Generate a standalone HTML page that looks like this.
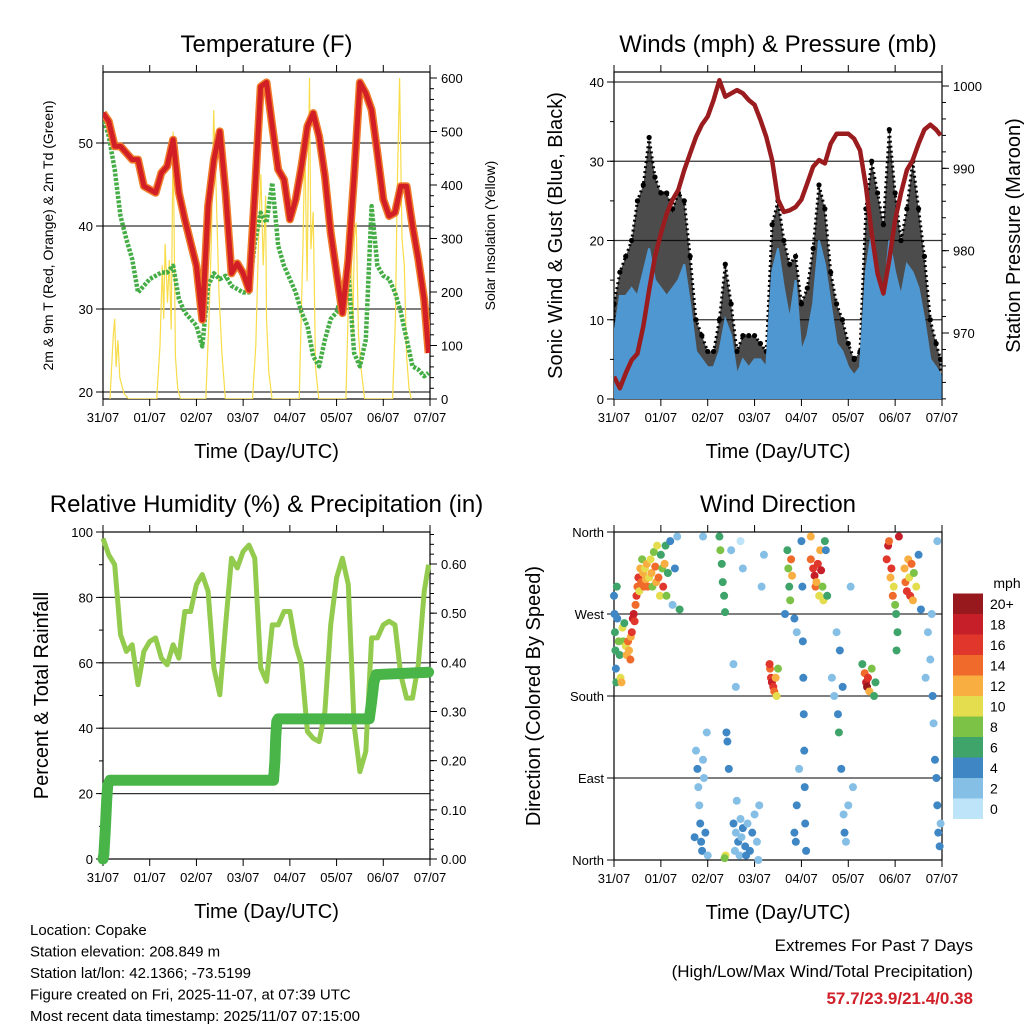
<!DOCTYPE html>
<html><head><meta charset="utf-8"><style>
html,body{margin:0;padding:0;background:#fff;}
svg{display:block;font-family:"Liberation Sans",Arial,sans-serif;}
</style></head><body>
<svg id="chart" width="1024" height="1024" viewBox="0 0 1024 1024" xmlns="http://www.w3.org/2000/svg"></svg>
<script>
// ---------- DATA ----------
const dayLabels = ["31/07","01/07","02/07","03/07","04/07","05/07","06/07","07/07"];
const tSteps = [0,0.125,0.25,0.375,0.5,0.625,0.75,0.875,1,1.125,1.25,1.375,1.5,1.625,1.75,1.875,2,2.125,2.25,2.375,2.5,2.625,2.75,2.875,3,3.125,3.25,3.375,3.5,3.625,3.75,3.875,4,4.125,4.25,4.375,4.5,4.625,4.75,4.875,5,5.125,5.25,5.375,5.5,5.625,5.75,5.875,6,6.125,6.25,6.375,6.5,6.625,6.75,6.875,6.97];
const tempF = [53.6,52.6,49.6,49.6,48.8,48,48,44.8,44.4,44,46.4,47.2,50.4,44,40.8,38,35.2,28.7,42.4,48,51.4,44,34.3,35.5,34.3,32.3,44,56.8,57.3,52,46.8,45.6,40.8,43.2,47.2,52,53.6,50.8,46,39.2,34.3,29.5,35.9,46,57.3,56,54,48.8,43.2,41.2,41.6,44.8,44.8,40,36,31.1,24.7];
const dewF = [53.2,50.8,46.8,41.2,38.4,36,32,32.8,33.6,34,34.4,34.4,35.2,31.2,29.6,28.8,28,25.5,32.8,34.3,33.6,34,32.8,32.4,32,32,38,41.6,40.4,45.2,37.6,35.2,33.6,32,29.6,28,24.3,23.1,26.3,28.8,29.6,32,34.4,24.7,23.1,26.3,42.4,35.2,34,33.6,32,29.6,26.4,23.1,22.7,21.9,22.3];
const solarT = [0.15,0.22,0.25,0.28,0.32,0.36,0.45,0.55, 1.15,1.22,1.27,1.3,1.33,1.38,1.42,1.46,1.5,1.55,1.6,1.66, 2.2,2.27,2.32,2.37,2.42,2.48,2.55,2.62, 3.2,3.27,3.33,3.38,3.43,3.48,3.5,3.55,3.62, 4.2,4.28,4.32,4.37,4.42,4.45,4.5,4.55,4.62, 5.2,5.26,5.3,5.35,5.38,5.42,5.47,5.52,5.6, 6.2,6.26,6.3,6.35,6.4,6.45,6.5,6.55,6.6];
const solarW = [0,120,150,60,110,40,10,0, 0,100,250,150,290,180,260,130,500,80,20,0, 0,150,300,540,400,200,80,0, 0,100,300,420,250,380,150,50,0, 0,280,480,220,600,280,350,60,0, 0,200,330,120,300,330,120,60,0, 0,150,400,600,300,250,80,20,0];
const pressureMb = [964.7,963.3,965.1,966.7,967.5,970.8,975.2,979.3,982.1,984.5,986.2,987.4,989.8,991.8,993.8,995.3,996.3,998.3,1000.7,998.7,999.1,999.5,999.1,998.3,997.7,995.9,993.8,991,986.2,984.7,984.9,985.3,986.2,988.2,990.2,991,990.6,993,994.2,994.2,994.2,993.6,992.2,987.8,982.1,977.2,974.8,978.9,983.7,987,989.8,991,993,994.7,995.3,994.7,994];
const windMph = [8,13,13,14,13,16,19,15,14,13,14,15,17,12,6,5,4,4,6,10,8,3,5,4,5,5,4,16,19,14,10,15,6,8,12,20,17,12,7,6,4,3,4,16,21,16,12,20,16,13,17,16,14,10,5,4,3];
const gustMph = [12,16,18,20,25,27,33,28,26,26,24,26,25,18,10,8,6,6,10,17,12,6,8,8,8,7,6,22,25,20,17,18,12,14,19,27,24,16,12,10,7,5,6,24,30,26,22,34,26,20,24,30,24,18,10,7,5];
const rhPct = [98,93,90,68.6,63.5,65.5,53.3,63.5,66.5,67.6,61.4,59.4,65.5,61.4,75.7,75.7,83.9,87,81.8,58.4,50.2,71.6,92,89,94,96,92,58.4,54.3,71.6,71.6,75.7,75.7,65.5,59.4,39,36.9,35.9,45.1,71.6,86,92,83.9,41,26.7,32.9,67.6,67.6,71.6,72.7,71.6,56.3,49.2,49.2,59.4,81.8,90];
const precipT = [0,0.02,0.05,0.08,0.1,0.15,3.65,3.68,3.7,3.72,3.75,5.7,5.75,5.8,5.85,6.97];
const precipIn = [0,0.01,0.06,0.12,0.15,0.16,0.16,0.2,0.25,0.28,0.285,0.285,0.32,0.36,0.375,0.38];
const dirT = [0,0.01,0.02,0.03,0.04,0.05,0.06,0.07,0.1,0.12,0.14,0.16,0.18,0.2,0.22,0.25,0.27,0.3,0.32,0.35,0.36,0.38,0.4,0.42,0.44,0.46,0.48,0.5,0.52,0.54,0.56,0.58,0.6,0.62,0.64,0.66,0.68,0.7,0.72,0.75,0.78,0.8,0.82,0.85,0.88,0.9,0.92,0.95,0.98,1.0,1.03,1.05,1.08,1.1,1.12,1.15,1.2,1.25,1.3,1.35,1.4,
1.75,1.78,1.8,1.82,1.84,1.86,1.88,1.9,1.92,1.95,1.72,1.98,2.0,1.9,
2.25,2.27,2.3,2.32,2.35,2.37,2.4,2.42,2.45,2.38,2.36,2.5,2.55,2.6,2.7,2.75,
2.55,2.6,2.65,2.7,2.72,2.75,2.8,2.85,2.9,2.95,3.0,3.05,3.1,2.58,2.68,2.62,2.82,3.08,3.15,3.2,
3.33,3.35,3.37,3.4,3.42,3.45,3.47,3.5,3.32,
3.72,3.74,3.76,3.78,3.8,3.7,3.65,3.85,3.9,
4.0,4.02,4.03,4.04,4.05,4.06,4.07,4.08,4.1,3.95,3.9,3.85,3.88,
4.2,4.25,4.28,4.3,4.32,4.35,4.38,4.4,4.42,4.45,4.47,4.5,4.52,4.55,4.2,
4.65,4.7,4.75,4.78,4.8,4.85,4.9,4.92,4.95,5.0,4.82,4.88,5.05,5.1,
5.35,5.38,5.4,5.42,5.45,5.5,5.55,5.58,5.3,
5.82,5.85,5.87,5.9,5.92,5.95,5.97,6.0,6.02,6.05,6.03,6.08,
6.2,6.22,6.25,6.28,6.3,6.32,6.35,6.38,6.4,6.45,6.5,6.55,
6.7,6.75,6.8,6.82,6.85,6.88,6.9,6.92,6.95,6.97,6.78,6.9,6.65];
const dirDeg = [290,270,250,230,210,195,300,265,240,225,200,195,255,240,260,235,225,240,230,220,245,250,265,270,262,280,290,300,310,295,320,305,330,315,300,320,308,325,300,310,330,315,300,338,322,305,345,310,290,335,320,300,325,345,290,315,350,280,320,355,275,
120,100,80,60,40,20,10,110,90,30,25,140,5,355,
355,340,325,305,290,272,140,130,100,5,2,340,215,190,350,320,
40,30,20,45,25,35,15,40,10,30,50,20,60,10,5,65,5,0,300,335,
210,200,195,190,185,200,180,210,215,
320,300,285,330,312,340,270,265,250,
350,300,240,200,160,120,80,40,10,100,60,30,20,
330,320,312,300,305,325,290,340,318,300,285,350,340,290,355,
200,180,250,160,140,100,50,30,20,60,230,190,300,80,
205,195,190,200,185,210,180,195,215,
330,345,350,310,320,290,300,280,270,250,230,355,
320,305,295,330,310,290,325,285,315,300,335,275,
250,220,180,150,110,90,60,30,15,40,270,350,200];
const dirSpd = [4,3,5,6,4,6,5,4,8,6,10,12,9,7,6,10,12,13,12,14,11,16,17,18,16,14,15,14,16,10,12,13,7,12,14,9,11,12,14,10,9,12,8,8,13,12,9,14,10,6,7,16,12,5,8,6,4,2,3,2,5,
1,3,2,2,4,4,3,2,1,4,4,1,2,1,
6,7,6,6,5,6,3,4,4,10,8,1,1,1,0,1,
3,2,3,2,1,3,4,2,3,4,2,1,2,1,2,1,3,2,1,1,
14,16,18,16,14,12,10,8,16,
8,6,8,14,12,6,4,3,1,
4,4,4,4,4,3,4,3,3,2,4,4,3,
14,16,18,14,12,16,10,12,18,8,10,6,4,6,12,
1,2,2,4,5,3,2,3,2,1,3,3,1,2,
14,18,20,16,12,8,6,6,6,
16,18,14,12,16,14,10,8,6,6,5,18,
12,14,16,12,10,16,13,11,8,10,4,3,
2,1,3,2,4,3,4,3,4,2,1,1,2];
const speedLabels = ["0","2","4","6","8","10","12","14","16","18","20+"];
const speedColors = ["#bde4f8","#86bfe6","#3f87c4","#3fa46a","#7cc247","#e4de4e","#f9ae42","#f06a2b","#e0362b","#c61f29","#97181d"];
const extremes = "57.7/23.9/21.4/0.38";

// ---------- HELPERS ----------
const svg = document.getElementById('chart');
const NS = 'http://www.w3.org/2000/svg';
function mk(tag, attrs, parent){ const e=document.createElementNS(NS,tag); for(const k in attrs) e.setAttribute(k,attrs[k]); (parent||svg).appendChild(e); return e; }
function txt(x,y,s,size,anchor,parent,extra){ const e=mk('text',Object.assign({x:x,y:y,'font-size':size,'text-anchor':anchor||'middle',fill:'#000'},extra||{}),parent); e.textContent=s; return e; }
function linScale(d0,d1,r0,r1){ return v => r0 + (v-d0)*(r1-r0)/(d1-d0); }
function pathFrom(xs,ys,fx,fy){ let d=''; for(let i=0;i<xs.length;i++){ d+=(i?'L':'M')+fx(xs[i]).toFixed(1)+','+fy(ys[i]).toFixed(1); } return d; }

function panel(cfg){
  const g = mk('g',{});
  
  
  const fx = linScale(0,7,cfg.x0,cfg.x1);
  cfg.grid.forEach(v=>{ const l=mk('line',{x1:cfg.x0,x2:cfg.x1,y1:cfg.fyL(v),y2:cfg.fyL(v),stroke:'#333','stroke-width':1.2},g);
    
     });
  const fr = mk('rect',{x:cfg.x0,y:cfg.y0,width:cfg.x1-cfg.x0,height:cfg.y1-cfg.y0,fill:'none',stroke:'#000','stroke-width':1.2},g);
  
  
  dayLabels.forEach((lab,i)=>{ const x=fx(i);
    mk('line',{x1:x,x2:x,y1:cfg.y1,y2:cfg.y1+7,stroke:'#000'},g);
    mk('line',{x1:x,x2:x,y1:cfg.y0,y2:cfg.y0-7,stroke:'#000'},g);
    const t=txt(x,cfg.y1+23,lab,13,'middle',g);
    
     });
  const xt=txt((cfg.x0+cfg.x1)/2,cfg.y1+59,'Time (Day/UTC)',20,'middle',g);
  
  
  const tt=txt((cfg.x0+cfg.x1)/2,cfg.y0-20,cfg.title,24,'middle',g);
  
  
  cfg.leftTicks.forEach((v,i)=>{ const y=cfg.fyL(v);
    mk('line',{x1:cfg.x0-7,x2:cfg.x0,y1:y,y2:y,stroke:'#000'},g);
    const t=txt(cfg.x0-10,y+5,cfg.leftLabels[i],13,'end',g);
    
     });
  (cfg.leftMinor||[]).forEach(v=>{ const y=cfg.fyL(v); mk('line',{x1:cfg.x0-4,x2:cfg.x0,y1:y,y2:y,stroke:'#000'},g); });
  const lt=txt(0,0,cfg.leftTitle,cfg.leftSize,'middle',g,{transform:`translate(${cfg.leftX},${(cfg.y0+cfg.y1)/2}) rotate(-90)`});
  
  
  if(cfg.rightTicks){
    cfg.rightTicks.forEach((v,i)=>{ const y=cfg.fyR(v);
      mk('line',{x1:cfg.x1,x2:cfg.x1+7,y1:y,y2:y,stroke:'#000'},g);
      const t=txt(cfg.x1+11,y+5,cfg.rightLabels[i],13,'start',g);
      
       });
    cfg.rightMinor.forEach(v=>{ const y=cfg.fyR(v); mk('line',{x1:cfg.x1,x2:cfg.x1+4,y1:y,y2:y,stroke:'#000'},g); });
    const rt=txt(0,0,cfg.rightTitle,cfg.rightSize,'middle',g,{transform:`translate(${cfg.rightX},${(cfg.y0+cfg.y1)/2}) rotate(-90)`});
    
    
  }
  return {g,fx};
}
function range(a,b,s){ const r=[]; for(let v=a; v<=b+1e-9; v+=s) r.push(+v.toFixed(4)); return r; }

// ---------- PANEL 1: Temperature ----------
{
  const fyL = linScale(20,50,392,143);
  const fyR = linScale(0,600,399,78);
  const p = panel({name:'temperature-panel',title:'Temperature (F)',x0:103,x1:430,y0:72,y1:399,fyL,fyR,
    grid:[20,30,40,50],leftTicks:[20,30,40,50],leftLabels:['20','30','40','50'],
    leftTitle:'2m & 9m T (Red, Orange) & 2m Td (Green)',leftSize:14,leftX:53,
    rightTicks:range(0,600,100),rightLabels:range(0,600,100).map(String),rightMinor:range(0,600,20),
    rightTitle:'Solar Insolation (Yellow)',rightSize:14,rightX:495});
  const cp = mk('clipPath',{id:'c1'}); mk('rect',{x:103,y:72,width:327,height:327},cp);
  const sol = mk('path',{d:pathFrom(solarT,solarW,p.fx,fyR),fill:'none',stroke:'#f8dc4a','stroke-width':1.2,'clip-path':'url(#c1)'},p.g);
  
  
  const dew = mk('path',{d:pathFrom(tSteps,dewF,p.fx,fyL),fill:'none',stroke:'#45ad45','stroke-width':4.5,'stroke-dasharray':'3 1.5','stroke-linejoin':'round','clip-path':'url(#c1)'},p.g);
  
  
  const t9 = mk('path',{d:pathFrom(tSteps,tempF,p.fx,fyL),fill:'none',stroke:'#f07a2a','stroke-width':8,'stroke-linejoin':'round','clip-path':'url(#c1)'},p.g);
  
  
  const t2 = mk('path',{d:pathFrom(tSteps,tempF,p.fx,fyL),fill:'none',stroke:'#d21f26','stroke-width':5,'stroke-linejoin':'round','clip-path':'url(#c1)'},p.g);
  
  
}

// ---------- PANEL 2: Winds & Pressure ----------
{
  const fyL = linScale(0,40,399,82);
  const fyR = linScale(970,1000,333,86);
  const p = panel({name:'winds-pressure-panel',title:'Winds (mph) & Pressure (mb)',x0:614,x1:942,y0:72,y1:399,fyL,fyR,
    grid:[10,20,30,40],leftTicks:[0,10,20,30,40],leftLabels:['0','10','20','30','40'],leftMinor:range(0,40,5),
    leftTitle:'Sonic Wind & Gust (Blue, Black)',leftSize:20,leftX:562,
    rightTicks:[970,980,990,1000],rightLabels:['970','980','990','1000'],rightMinor:range(962,1000,2),
    rightTitle:'Station Pressure (Maroon)',rightSize:20,rightX:1020});
  const cp = mk('clipPath',{id:'c2'}); mk('rect',{x:614,y:72,width:328,height:327},cp);
  let d = pathFrom(tSteps,gustMph,p.fx,fyL);
  for(let i=tSteps.length-1;i>=0;i--) d+='L'+p.fx(tSteps[i]).toFixed(1)+','+fyL(windMph[i]*0.7).toFixed(1);
  const gb = mk('path',{d:d+'Z',fill:'#000','fill-opacity':0.7,stroke:'#000','stroke-width':3,'stroke-dasharray':'2 3','clip-path':'url(#c2)'},p.g);
  
  
  tSteps.forEach((t,i)=>{ const c=mk('circle',{cx:p.fx(t),cy:fyL(gustMph[i]),r:2.6,fill:'#000','clip-path':'url(#c2)'},p.g);
    
     });
  let w = pathFrom(tSteps,windMph,p.fx,fyL);
  w += 'L'+p.fx(tSteps[tSteps.length-1])+','+fyL(0)+'L'+p.fx(0)+','+fyL(0)+'Z';
  const wb = mk('path',{d:w,fill:'#4f97d1',stroke:'#4f97d1','stroke-width':2,'clip-path':'url(#c2)'},p.g);
  
  
  const pr = mk('path',{d:pathFrom(tSteps,pressureMb,p.fx,fyR),fill:'none',stroke:'#9b1c1f','stroke-width':4.5,'stroke-linejoin':'round','clip-path':'url(#c2)'},p.g);
  
  
}

// ---------- PANEL 3: RH & Precip ----------
{
  const fyL = linScale(0,100,859,532);
  const fyR = linScale(0,0.6,859,564);
  const p = panel({name:'humidity-precip-panel',title:'Relative Humidity (%) & Precipitation (in)',x0:103,x1:430,y0:532,y1:859,fyL,fyR,
    grid:[20,40,60,80],leftTicks:[0,20,40,60,80,100],leftLabels:['0','20','40','60','80','100'],leftMinor:range(0,100,10),
    leftTitle:'Percent & Total Rainfall',leftSize:20,leftX:48,
    rightTicks:range(0,0.6,0.1),rightLabels:range(0,0.6,0.1).map(v=>v.toFixed(2)),rightMinor:range(0,0.66,0.02),
    rightTitle:'',rightSize:14,rightX:495});
  const cp = mk('clipPath',{id:'c3'}); mk('rect',{x:98,y:532,width:340,height:330},cp);
  const rh = mk('path',{d:pathFrom(tSteps,rhPct,p.fx,fyL),fill:'none',stroke:'#93cb4f','stroke-width':5,'stroke-linejoin':'round','clip-path':'url(#c3)'},p.g);
  
  
  const pc = mk('path',{d:pathFrom(precipT,precipIn,p.fx,fyR),fill:'none',stroke:'#49b548','stroke-width':11,'stroke-linejoin':'round','stroke-linecap':'round'},p.g);
  
  
}

// ---------- PANEL 4: Wind direction ----------
{
  const fyL = linScale(0,360,860,532);
  const p = panel({name:'wind-direction-panel',title:'Wind Direction',x0:614,x1:942,y0:532,y1:860,fyL,
    grid:[90,180,270],leftTicks:[0,90,180,270,360],leftLabels:['North','East','South','West','North'],
    leftTitle:'Direction (Colored By Speed)',leftSize:20,leftX:540});
  const cp = mk('clipPath',{id:'c4'}); mk('rect',{x:610,y:528,width:336,height:336},cp);
  dirT.forEach((t,i)=>{ const bin=Math.min(10,Math.round(dirSpd[i]/2));
    const c=mk('circle',{cx:p.fx(t),cy:fyL(dirDeg[i]),r:4,fill:speedColors[bin],'clip-path':'url(#c4)'},p.g);
    
     });
  const cb = mk('g',{});
  
  
  const h=20.5;
  speedLabels.forEach((lab,i)=>{ const y=819-(i+1)*h;
    const r=mk('rect',{x:953,y:y,width:30,height:h,fill:speedColors[i]},cb);
    
    
    const t=txt(990,y+h/2+5,lab,14,'start',cb);
    
     });
  const mt=txt(1007,588,'mph',14,'middle',cb);
  
  
}

// ---------- Footer text ----------
const infoLines = ['Location: Copake','Station elevation: 208.849 m','Station lat/lon: 42.1366; -73.5199','Figure created on Fri, 2025-11-07, at 07:39 UTC','Most recent data timestamp: 2025/11/07 07:15:00'];
infoLines.forEach((s,i)=>{ const t=txt(30,935+i*21.5,s,15,'start');
  
   });
const e1=txt(973,951,'Extremes For Past 7 Days',17,'end');


const e2=txt(973,977,'(High/Low/Max Wind/Total Precipitation)',17,'end');


const e3=txt(973,1004,extremes,17,'end',null,{fill:'#d0202a','font-weight':'bold'});


</script>
</body></html>
